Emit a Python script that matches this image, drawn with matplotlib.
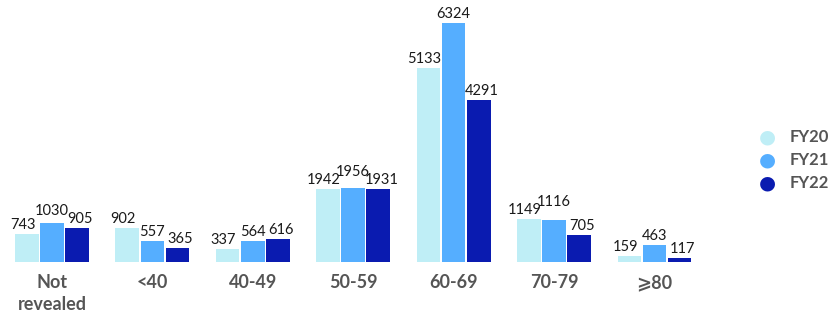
import matplotlib
matplotlib.use("Agg")
import matplotlib.pyplot as plt
from matplotlib.transforms import offset_copy
import numpy as np

categories = ["Not\nrevealed", "<40", "40-49", "50-59", "60-69", "70-79", "⩾80"]
fy20 = [743, 902, 337, 1942, 5133, 1149, 159]
fy21 = [1030, 557, 564, 1956, 6324, 1116, 463]
fy22 = [905, 365, 616, 1931, 4291, 705, 117]
series_names = ["FY20", "FY21", "FY22"]
colors = ["#BFEEF6", "#55AEFF", "#0A1BB0"]

plt.rcParams['font.family'] = ['Lato', 'DejaVu Sans']

fig = plt.figure(figsize=(8.37, 3.21), dpi=100)
ax = fig.add_axes([0.002, 59/321, 703/837, 257/321])

x = np.arange(len(categories))
w = 0.235
step = 0.25
side_shift = [-4, 0, 3]  # points-ish horizontal nudge for side labels
labels = [[None] * 3 for _ in categories]
for i, (vals, c) in enumerate(zip([fy20, fy21, fy22], colors)):
    pos = x + (i - 1) * step
    ax.bar(pos, vals, width=w, color=c, label=series_names[i])
    for j, (p, v) in enumerate(zip(pos, vals)):
        tr = offset_copy(ax.transData, fig=fig, x=side_shift[i], y=2, units='dots')
        labels[j][i] = ax.text(p, v, str(v), ha='center', va='bottom', fontsize=10.5,
                               color='#1a1a1a', transform=tr)

ax.set_xlim(-0.5, 6.5)
ax.set_ylim(0, 6800)
ax.set_xticks(x)
ax.set_xticklabels(categories, fontsize=13, fontweight='bold', color='#555555',
                   linespacing=1.35, va='top')
ax.tick_params(axis='x', length=0, pad=9)
ax.set_yticks([])
for s in ax.spines.values():
    s.set_visible(False)

# raise the middle label if it still collides with a neighbour
fig.canvas.draw()
r = fig.canvas.get_renderer()
for j in range(len(categories)):
    mid = labels[j][1]
    bm = mid.get_window_extent(r)
    need = 0
    for k in (0, 2):
        bo = labels[j][k].get_window_extent(r)
        if bo.x1 > bm.x0 and bo.x0 < bm.x1 and bo.y1 > bm.y0 and bo.y0 < bm.y1:
            need = max(need, bo.y1 - bm.y0 - 6)
    if need > 0:
        mid.set_transform(offset_copy(ax.transData, fig=fig, x=0, y=2 + need, units='dots'))

# legend
for i, (name, c) in enumerate(zip(series_names, colors)):
    yy = 1 - (137 + 23 * i) / 321
    fig.text(767/837, yy, "●", color=c, fontsize=14, ha='center', va='center',
             family='DejaVu Sans')
    fig.text(790/837, yy, name, color='#555555', fontsize=12, fontweight='bold',
             ha='left', va='center')

fig.savefig("out.png", dpi=100)
